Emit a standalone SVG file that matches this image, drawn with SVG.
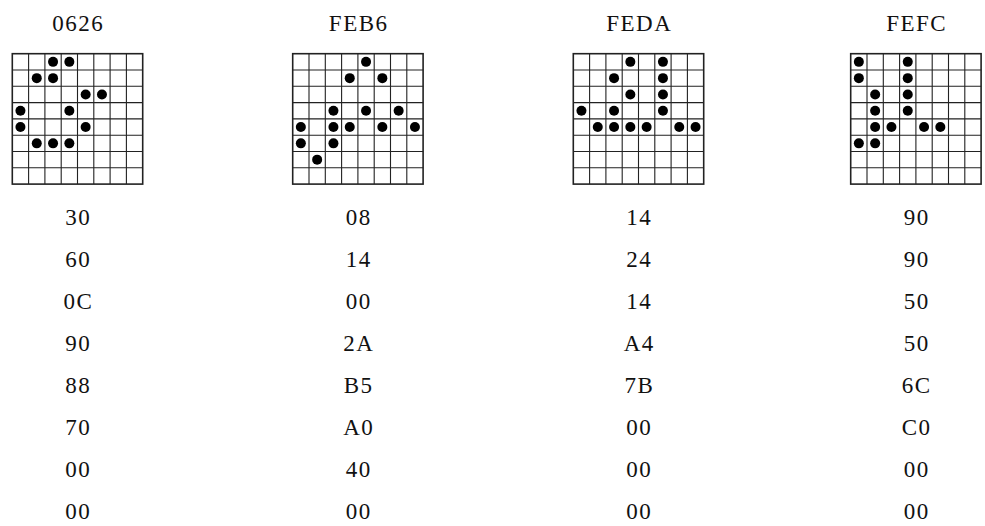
<svg xmlns="http://www.w3.org/2000/svg" xmlns:xlink="http://www.w3.org/1999/xlink" width="985" height="526" viewBox="0 0 985 526">
<style>
text{font-family:"Liberation Serif","Times New Roman","DejaVu Serif",serif;font-size:23px;fill:#111;text-anchor:middle;letter-spacing:1.5px}
.gl{fill:none;stroke:#222;stroke-width:1.1}
.gb{fill:#fff;stroke:#222;stroke-width:1.6}
.dot{fill:#000}
</style>
<defs>
<g id="grid">
<rect class="gb" x="0" y="0" width="130.4" height="130.4"/>
<path class="gl" d="M16.3 0V130.4M32.6 0V130.4M48.9 0V130.4M65.2 0V130.4M81.5 0V130.4M97.8 0V130.4M114.1 0V130.4M0 16.3H130.4M0 32.6H130.4M0 48.9H130.4M0 65.2H130.4M0 81.5H130.4M0 97.8H130.4M0 114.1H130.4"/>
</g>
<circle id="d" class="dot" cx="0" cy="0" r="5"/>
</defs>
<rect width="985" height="526" fill="#fff"/>
<g id="connectors"></g>

<g id="node-0626">
<text x="78.3" y="31">0626</text>
<g transform="translate(12.3,53.7)">
<use href="#grid"/>
<use href="#d" x="40.75" y="8.15"/><use href="#d" x="57.05" y="8.15"/>
<use href="#d" x="24.45" y="24.45"/><use href="#d" x="40.75" y="24.45"/>
<use href="#d" x="73.35" y="40.75"/><use href="#d" x="89.65" y="40.75"/>
<use href="#d" x="8.15" y="57.05"/><use href="#d" x="57.05" y="57.05"/>
<use href="#d" x="8.15" y="73.35"/><use href="#d" x="73.35" y="73.35"/>
<use href="#d" x="24.45" y="89.65"/><use href="#d" x="40.75" y="89.65"/><use href="#d" x="57.05" y="89.65"/>
</g>
<text x="78.3" y="225">30</text>
<text x="78.3" y="267">60</text>
<text x="78.3" y="309">0C</text>
<text x="78.3" y="351">90</text>
<text x="78.3" y="393">88</text>
<text x="78.3" y="435">70</text>
<text x="78.3" y="477">00</text>
<text x="78.3" y="519">00</text>
</g>

<g id="node-FEB6">
<text x="358.7" y="31">FEB6</text>
<g transform="translate(292.7,53.7)">
<use href="#grid"/>
<use href="#d" x="73.35" y="8.15"/>
<use href="#d" x="57.05" y="24.45"/><use href="#d" x="89.65" y="24.45"/>
<use href="#d" x="40.75" y="57.05"/><use href="#d" x="73.35" y="57.05"/><use href="#d" x="105.95" y="57.05"/>
<use href="#d" x="8.15" y="73.35"/><use href="#d" x="40.75" y="73.35"/><use href="#d" x="57.05" y="73.35"/><use href="#d" x="89.65" y="73.35"/><use href="#d" x="122.25" y="73.35"/>
<use href="#d" x="8.15" y="89.65"/><use href="#d" x="40.75" y="89.65"/>
<use href="#d" x="24.45" y="105.95"/>
</g>
<text x="358.7" y="225">08</text>
<text x="358.7" y="267">14</text>
<text x="358.7" y="309">00</text>
<text x="358.7" y="351">2A</text>
<text x="358.7" y="393">B5</text>
<text x="358.7" y="435">A0</text>
<text x="358.7" y="477">40</text>
<text x="358.7" y="519">00</text>
</g>

<g id="node-FEDA">
<text x="639.3" y="31">FEDA</text>
<g transform="translate(573.3,53.7)">
<use href="#grid"/>
<use href="#d" x="57.05" y="8.15"/><use href="#d" x="89.65" y="8.15"/>
<use href="#d" x="40.75" y="24.45"/><use href="#d" x="89.65" y="24.45"/>
<use href="#d" x="57.05" y="40.75"/><use href="#d" x="89.65" y="40.75"/>
<use href="#d" x="8.15" y="57.05"/><use href="#d" x="40.75" y="57.05"/><use href="#d" x="89.65" y="57.05"/>
<use href="#d" x="24.45" y="73.35"/><use href="#d" x="40.75" y="73.35"/><use href="#d" x="57.05" y="73.35"/><use href="#d" x="73.35" y="73.35"/><use href="#d" x="105.95" y="73.35"/><use href="#d" x="122.25" y="73.35"/>
</g>
<text x="639.3" y="225">14</text>
<text x="639.3" y="267">24</text>
<text x="639.3" y="309">14</text>
<text x="639.3" y="351">A4</text>
<text x="639.3" y="393">7B</text>
<text x="639.3" y="435">00</text>
<text x="639.3" y="477">00</text>
<text x="639.3" y="519">00</text>
</g>

<g id="node-FEFC">
<text x="916.7" y="31">FEFC</text>
<g transform="translate(850.7,53.7)">
<use href="#grid"/>
<use href="#d" x="8.15" y="8.15"/><use href="#d" x="57.05" y="8.15"/>
<use href="#d" x="8.15" y="24.45"/><use href="#d" x="57.05" y="24.45"/>
<use href="#d" x="24.45" y="40.75"/><use href="#d" x="57.05" y="40.75"/>
<use href="#d" x="24.45" y="57.05"/><use href="#d" x="57.05" y="57.05"/>
<use href="#d" x="24.45" y="73.35"/><use href="#d" x="40.75" y="73.35"/><use href="#d" x="73.35" y="73.35"/><use href="#d" x="89.65" y="73.35"/>
<use href="#d" x="8.15" y="89.65"/><use href="#d" x="24.45" y="89.65"/>
</g>
<text x="916.7" y="225">90</text>
<text x="916.7" y="267">90</text>
<text x="916.7" y="309">50</text>
<text x="916.7" y="351">50</text>
<text x="916.7" y="393">6C</text>
<text x="916.7" y="435">C0</text>
<text x="916.7" y="477">00</text>
<text x="916.7" y="519">00</text>
</g>
</svg>
